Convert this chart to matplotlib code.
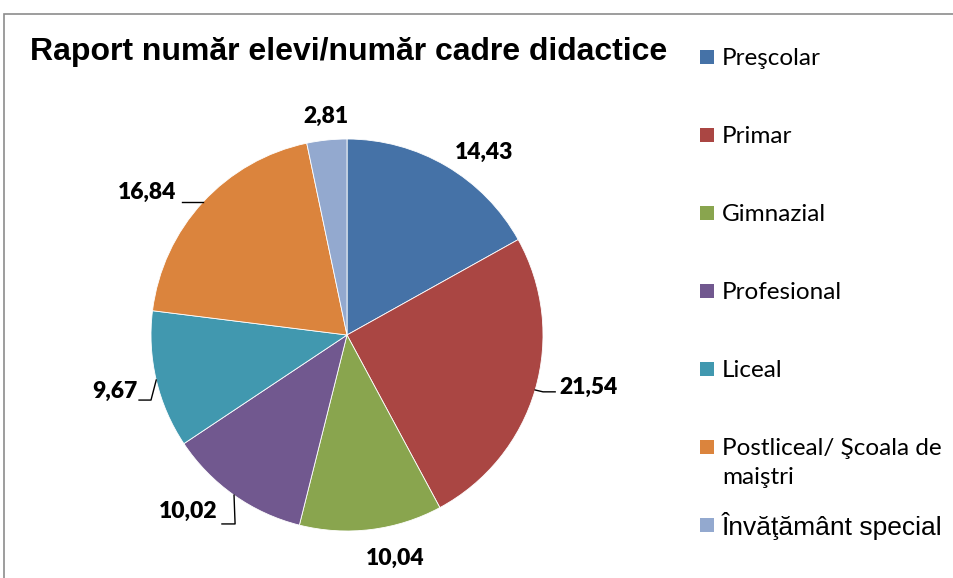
import matplotlib
matplotlib.use("Agg")
import matplotlib.pyplot as plt
import numpy as np
from matplotlib.patches import Rectangle

TITLE = "Raport număr elevi/număr cadre didactice"
categories = [
    "Preşcolar",
    "Primar",
    "Gimnazial",
    "Profesional",
    "Liceal",
    "Postliceal/ Şcoala de\nmaiştri",
    "Învăţământ special",
]
values = [14.43, 21.54, 10.04, 10.02, 9.67, 16.84, 2.81]
colors = ["#4572A7", "#AA4643", "#89A54E", "#71588F", "#4198AF", "#DB843D", "#93A9CF"]

# label anchors (data units, pie radius = 1) and text alignment
label_pos = [(0.70, 0.93, "center"), (1.085, -0.265, "left"), (0.245, -1.14, "center"),
             (-0.66, -0.90, "right"), (-1.07, -0.29, "right"), (-0.87, 0.725, "right"),
             (-0.107, 1.115, "center")]
# leader lines: (elbow_x, elbow_y, end_x) or None
leaders = [None, (1.0, -0.29, 1.062), None, (-0.571, -0.964, -0.638),
           (-1.0, -0.332, -1.061), (None, None, -0.842), None]

W, H = 954, 578


def fmt(v):
    return f"{v:.2f}".replace(".", ",")


def main():
    fig = plt.figure(figsize=(W / 100, H / 100), dpi=100)

    # outer chart border (cut off on right and bottom)
    fig.patches.append(Rectangle((4 / W, -0.05), 1.1, (H - 14) / H + 0.05,
                                 transform=fig.transFigure, fill=False,
                                 edgecolor="#8c8c8c", linewidth=1.2))

    ax = fig.add_axes([102 / W, -2 / H, 490 / W, 490 / H])
    wedges, _ = ax.pie(values, colors=colors, startangle=90, counterclock=False,
                       wedgeprops=dict(edgecolor="white", linewidth=0.6))
    ax.set_xlim(-1.25, 1.25)
    ax.set_ylim(-1.25, 1.25)

    for w, v, (lx, ly, ha), ld in zip(wedges, values, label_pos, leaders):
        ax.text(lx, ly, fmt(v), ha=ha, va="center", fontsize=16.5,
                fontweight="heavy", family="Lato", clip_on=False)
        if ld is None:
            continue
        mid = np.deg2rad((w.theta1 + w.theta2) / 2)
        ex, ey = np.cos(mid), np.sin(mid)
        bx, by, endx = ld
        if bx is None:
            xs, ys = [ex, endx], [ey, ey]
        else:
            xs, ys = [ex, bx, endx], [ey, by, by]
        ax.plot(xs, ys, color="black", linewidth=1.0, clip_on=False)

    fig.text(30 / W, 1 - 52 / H, TITLE, fontsize=23, fontweight="bold",
             family="Liberation Sans", va="center", ha="left")

    # legend
    for i, (lab, col) in enumerate(zip(categories, colors)):
        yc = 57 + 78 * i
        fig.patches.append(Rectangle((700 / W, 1 - (yc + 7) / H), 14 / W, 14 / H,
                                     transform=fig.transFigure, facecolor=col,
                                     edgecolor="none"))
        if lab.startswith("Î"):
            fam, fs, dy = "Liberation Sans", 19, 13
        else:
            fam, fs, dy = "Lato", 17.5, 9
        fig.text(722 / W, 1 - (yc - dy) / H, lab, fontsize=fs, family=fam,
                 va="top", ha="left", linespacing=1.45)

    fig.savefig("out.png", dpi=100)


if __name__ == "__main__":
    main()
